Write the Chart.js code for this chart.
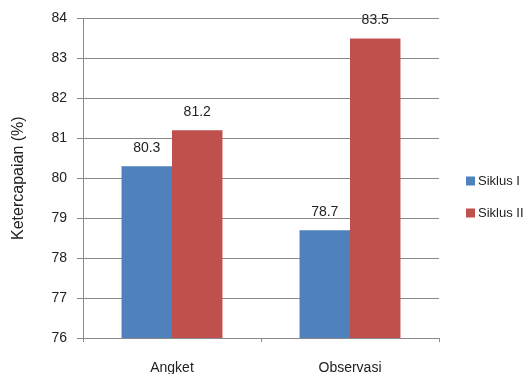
<!DOCTYPE html>
<html>
<head>
<meta charset="utf-8">
<script src="https://cdn.jsdelivr.net/npm/chart.js@4.4.0/dist/chart.umd.min.js"></script>
<style>
  html, body { margin: 0; padding: 0; background: #fff; }
  #wrap { width: 525px; height: 374px; }
</style>
</head>
<body>
<div id="wrap"><canvas id="grafik" width="525" height="374"></canvas></div>
<script>
// DATA
const kategori = ["Angket", "Observasi"];
const siklus1 = [80.3, 78.7];
const siklus2 = [81.2, 83.5];
const labelSeri = ["Siklus I", "Siklus II"];
const warnaSeri = ["#4f81bd", "#c0504d"];
const yMin = 76, yMax = 84, yStep = 1;

const fonte = "'Liberation Sans', Arial, sans-serif";

// rótulos de valor acima das barras
const rotulos = {
  id: "rotulos",
  afterDatasetsDraw(chart) {
    const ctx = chart.ctx;
    ctx.save();
    ctx.font = "14px " + fonte;
    ctx.fillStyle = "#222";
    ctx.textAlign = "center";
    ctx.textBaseline = "middle";
    chart.data.datasets.forEach((ds, i) => {
      chart.getDatasetMeta(i).data.forEach((bar, j) => {
        ctx.fillText(ds.data[j].toFixed(1), bar.x, bar.y - 18);
      });
    });
    ctx.restore();
  }
};

// legenda à direita
const legenda = {
  id: "legenda",
  afterDraw(chart) {
    const ctx = chart.ctx;
    const x0 = chart.chartArea.right + 27;
    ctx.save();
    ctx.font = "13px " + fonte;
    ctx.textBaseline = "middle";
    chart.data.datasets.forEach((ds, i) => {
      const y = 181 + i * 32;
      ctx.fillStyle = ds.backgroundColor;
      ctx.fillRect(x0, y - 4.5, 9, 9);
      ctx.fillStyle = "#222";
      ctx.fillText(ds.label, x0 + 12, y);
    });
    ctx.restore();
  }
};

new Chart(document.getElementById("grafik").getContext("2d"), {
  type: "bar",
  data: {
    labels: kategori,
    datasets: [
      { label: labelSeri[0], data: siklus1, backgroundColor: warnaSeri[0] },
      { label: labelSeri[1], data: siklus2, backgroundColor: warnaSeri[1] }
    ]
  },
  options: {
    responsive: false,
    animation: false,
    layout: { padding: { top: 18, right: 86, bottom: 0, left: 0 } },
    datasets: { bar: { categoryPercentage: 0.567, barPercentage: 1 } },
    plugins: { legend: { display: false }, tooltip: { enabled: false } },
    scales: {
      x: {
        grid: { display: true, drawOnChartArea: false, drawTicks: true, tickLength: 4, color: "#8a8a8a", offset: true },
        border: { color: "#8a8a8a" },
        ticks: { color: "#222", font: { family: fonte, size: 14 }, padding: 18 },
        afterFit: s => { s.height = 36; }
      },
      y: {
        min: yMin, max: yMax,
        grid: { color: "#8a8a8a", tickLength: 6 },
        border: { color: "#8a8a8a" },
        ticks: { stepSize: yStep, color: "#222", font: { family: fonte, size: 14 }, padding: 10 },
        title: { display: true, text: "Ketercapaian (%)", color: "#222", font: { family: fonte, size: 16 }, padding: { top: 9, bottom: 0 } },
        afterFit: s => { s.width = 83; }
      }
    }
  },
  plugins: [rotulos, legenda]
});
</script>
</body>
</html>
